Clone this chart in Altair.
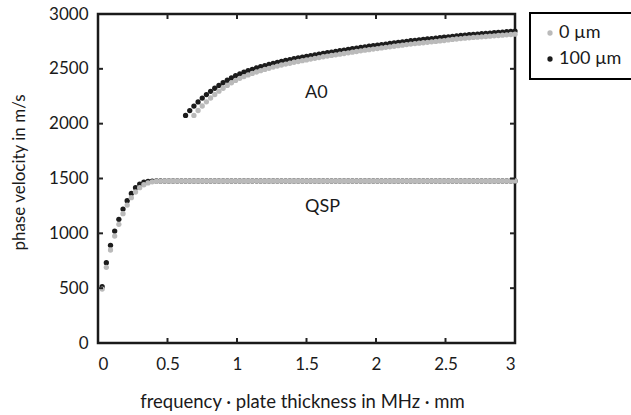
import altair as alt
import pandas as pd

# ---------------- data ----------------
series_names = ["0 µm", "100 µm"]
series_colors = ["#bababa", "#1c1c1c"]

# QSP mode, frequency-thickness grid 0.03 ... 3.00 (step 0.03)
qsp_start, qsp_step = 0.03, 0.03
qsp_100 = [
    513, 732, 891, 1021, 1128, 1221, 1297, 1364, 1416, 1449,
    1466, 1474, 1477, 1478, 1478, 1478, 1478, 1478, 1478, 1478,
    1478, 1478, 1478, 1478, 1478, 1478, 1478, 1478, 1478, 1478,
    1478, 1478, 1478, 1478, 1478, 1478, 1478, 1478, 1478, 1478,
    1478, 1478, 1478, 1478, 1478, 1478, 1478, 1478, 1478, 1478,
    1478, 1478, 1478, 1478, 1478, 1478, 1478, 1478, 1478, 1478,
    1478, 1478, 1478, 1478, 1478, 1478, 1478, 1478, 1478, 1478,
    1478, 1478, 1478, 1478, 1478, 1478, 1478, 1478, 1478, 1478,
    1478, 1478, 1478, 1478, 1478, 1478, 1478, 1478, 1478, 1478,
    1478, 1478, 1478, 1478, 1478, 1478, 1478, 1478, 1478, 1478,
]
qsp_0 = [
    492, 690, 848, 975, 1082, 1179, 1258, 1325, 1377, 1416,
    1443, 1460, 1470, 1475, 1477, 1478, 1478, 1478, 1478, 1478,
    1478, 1478, 1478, 1478, 1478, 1478, 1478, 1478, 1478, 1478,
    1478, 1478, 1478, 1478, 1478, 1478, 1478, 1478, 1478, 1478,
    1478, 1478, 1478, 1478, 1478, 1478, 1478, 1478, 1478, 1478,
    1478, 1478, 1478, 1478, 1478, 1478, 1478, 1478, 1478, 1478,
    1478, 1478, 1478, 1478, 1478, 1478, 1478, 1478, 1478, 1478,
    1478, 1478, 1478, 1478, 1478, 1478, 1478, 1478, 1478, 1478,
    1478, 1478, 1478, 1478, 1478, 1478, 1478, 1478, 1478, 1478,
    1478, 1478, 1478, 1478, 1478, 1478, 1478, 1478, 1478, 1478,
]

# A0 mode, 100 µm: grid 0.63 ... 3.00 ; 0 µm: grid 0.69 ... 3.00
a0_100_start = 0.63
a0_100 = [
    2075, 2119, 2160, 2198, 2233, 2265, 2295, 2323, 2349, 2373,
    2396, 2417, 2437, 2454, 2469, 2483, 2496, 2508, 2519, 2530,
    2540, 2550, 2559, 2568, 2576, 2584, 2592, 2599, 2606, 2613,
    2620, 2627, 2634, 2641, 2647, 2653, 2659, 2665, 2671, 2677,
    2683, 2689, 2695, 2701, 2706, 2711, 2716, 2721, 2726, 2731,
    2736, 2741, 2746, 2751, 2756, 2760, 2764, 2768, 2772, 2776,
    2780, 2784, 2788, 2792, 2796, 2800, 2804, 2808, 2811, 2814,
    2817, 2820, 2823, 2826, 2829, 2832, 2835, 2838, 2841, 2844,
]
a0_0_start = 0.69
a0_0 = [
    2075, 2120, 2161, 2199, 2234, 2266, 2296, 2323, 2349, 2372,
    2394, 2413, 2429, 2444, 2458, 2471, 2483, 2495, 2505, 2516,
    2525, 2535, 2543, 2551, 2560, 2567, 2574, 2581, 2589, 2596,
    2603, 2610, 2616, 2622, 2628, 2634, 2640, 2646, 2652, 2658,
    2664, 2670, 2675, 2680, 2685, 2691, 2696, 2701, 2706, 2711,
    2716, 2721, 2726, 2730, 2734, 2738, 2742, 2746, 2750, 2754,
    2758, 2764, 2768, 2772, 2776, 2780, 2783, 2786, 2789, 2792,
    2795, 2798, 2801, 2804, 2807, 2810, 2813, 2816,
]

mode_labels = ["A0", "QSP"]
mode_label_x = [1.49, 1.49]
mode_label_y = [2280, 1240]

x_ticks = [0, 0.5, 1, 1.5, 2, 2.5, 3]
y_ticks = [0, 500, 1000, 1500, 2000, 2500, 3000]
x_inner_ticks = [0.5, 1, 1.5, 2, 2.5]
y_inner_ticks = [500, 1000, 1500, 2000, 2500]

# ---------------- table ----------------
def grid(start, step, n):
    return [round(start + step * i, 2) for i in range(n)]

rows = []
# draw 100 µm first, 0 µm on top
for name, vals, start in [("100 µm", qsp_100, qsp_start), ("100 µm", a0_100, a0_100_start),
                          ("0 µm", qsp_0, qsp_start), ("0 µm", a0_0, a0_0_start)]:
    for xv, yv in zip(grid(start, 0.03, len(vals)), vals):
        rows.append({"x": xv, "v": yv, "s": name})
df = pd.DataFrame(rows)
df["order"] = range(len(df))

W, H = 417, 329
FONT = "Lato"
TXT = "#1a1a1a"

xscale = alt.Scale(domain=[0, 3], nice=False, zero=False)
yscale = alt.Scale(domain=[0, 3000], nice=False)

points = alt.Chart(df).mark_circle(size=28, opacity=1).encode(
    x=alt.X("x:Q", scale=xscale,
            axis=alt.Axis(values=x_ticks, format="~g", ticks=False, domain=False, grid=False,
                          labelPadding=13, labelFontSize=17, labelColor=TXT,
                          title="frequency · plate thickness in MHz · mm",
                          titleFontSize=18.5, titleFontWeight="normal", titleColor=TXT,
                          titleX=204, titleY=64, titleBaseline="alphabetic")),
    y=alt.Y("v:Q", scale=yscale,
            axis=alt.Axis(values=y_ticks, format="d", ticks=False, domain=False, grid=False,
                          labelPadding=10, labelFontSize=17, labelColor=TXT,
                          title="phase velocity in m/s",
                          titleFontSize=17, titleFontWeight="normal", titleColor=TXT,
                          titleX=-74, titleY=158, titleBaseline="alphabetic")),
    color=alt.Color("s:N", scale=alt.Scale(domain=series_names, range=series_colors),
                    legend=alt.Legend(title=None,
                                      orient="none", legendX=432, legendY=-1,
                                      symbolType="circle", symbolSize=28, symbolStrokeWidth=0,
                                      labelFontSize=18, labelColor=TXT, labelAlign="left",
                                      labelOffset=0, rowPadding=8, padding=11,
                                      strokeColor="black")),
    order="order:Q",
)

labels_df = pd.DataFrame({"x": mode_label_x, "v": mode_label_y, "t": mode_labels})
labels = alt.Chart(labels_df).mark_text(align="left", baseline="middle", fontSize=18,
                                        font=FONT, color=TXT).encode(
    x=alt.X("x:Q", scale=xscale), y=alt.Y("v:Q", scale=yscale), text="t:N")

xt = pd.DataFrame({"x": x_inner_ticks})
yt = pd.DataFrame({"v": y_inner_ticks})
tick_style = dict(color="#222", strokeWidth=2)
bottom_ticks = alt.Chart(xt).mark_rule(**tick_style).encode(
    x=alt.X("x:Q", scale=xscale), y=alt.value(H), y2=alt.value(H - 5))
top_ticks = alt.Chart(xt).mark_rule(**tick_style).encode(
    x=alt.X("x:Q", scale=xscale), y=alt.value(0), y2=alt.value(5))
left_ticks = alt.Chart(yt).mark_rule(**tick_style).encode(
    y=alt.Y("v:Q", scale=yscale), x=alt.value(0), x2=alt.value(5))
right_ticks = alt.Chart(yt).mark_rule(**tick_style).encode(
    y=alt.Y("v:Q", scale=yscale), x=alt.value(W), x2=alt.value(W - 5))

chart = alt.layer(points, labels, bottom_ticks, top_ticks, left_ticks, right_ticks).properties(
    width=W, height=H,
    autosize=alt.AutoSizeParams(type="none"),
    padding={"left": 98, "top": 14, "right": 116, "bottom": 72},
    background="white",
).configure_view(
    stroke="#1a1a1a", strokeWidth=2.5
).configure_axis(
    labelFont=FONT, titleFont=FONT
).configure_legend(
    labelFont=FONT, strokeColor="black", strokeWidth=2
)

chart.save("out.html", embed_options={"renderer": "svg", "actions": False})
